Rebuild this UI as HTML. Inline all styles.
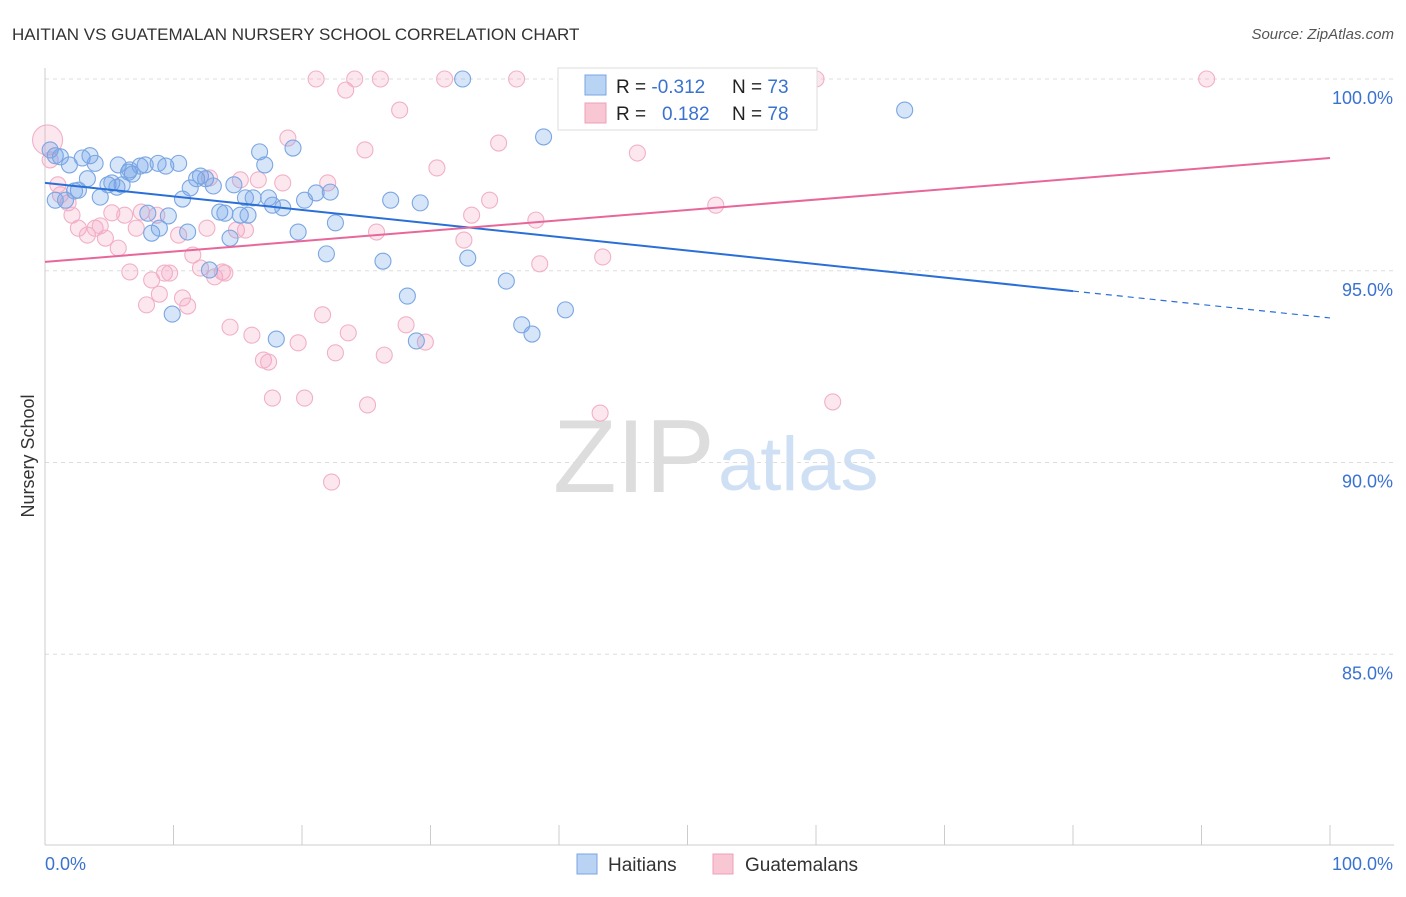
<!DOCTYPE html>
<html><head><meta charset="utf-8"><style>
body{margin:0;background:#fff;font-family:"Liberation Sans",sans-serif}
svg text{font-family:"Liberation Sans",sans-serif}
</style></head><body>
<svg id="chart" width="1406" height="892" viewBox="0 0 1406 892">
<text x="12" y="40" font-size="17" fill="#333">HAITIAN VS GUATEMALAN NURSERY SCHOOL CORRELATION CHART</text>
<text x="1394" y="39" font-size="15" fill="#555" font-style="italic" text-anchor="end">Source: ZipAtlas.com</text>
<text x="34" y="456" font-size="18" fill="#333" transform="rotate(-90 34 456)" text-anchor="middle">Nursery School</text>
<g><text x="553" y="492" font-size="104" fill="#ddd" font-family="Liberation Serif,serif">ZIP</text><text x="718" y="490" font-size="76" fill="#cfe0f5">atlas</text></g>
<g id="grid"></g><g id="axes"></g><g id="pts"></g><g id="lines"></g>
<g>
<rect x="558" y="68" width="259" height="62" fill="#fff" stroke="#ddd"/>
<rect x="585" y="75" width="21" height="20" fill="#b9d3f5" stroke="#7aa6e0"/>
<rect x="585" y="103" width="21" height="20" fill="#f9c6d4" stroke="#eca0b8"/>
<text x="616" y="93" font-size="19" fill="#222">R = <tspan fill="#3a72d0">-0.312</tspan></text>
<text x="732" y="93" font-size="19" fill="#222">N = <tspan fill="#3a72d0">73</tspan></text>
<text x="616" y="120" font-size="19" fill="#222">R = <tspan fill="#3a72d0" x="662">0.182</tspan></text>
<text x="732" y="120" font-size="19" fill="#222">N = <tspan fill="#3a72d0">78</tspan></text>
</g>
<g>
<rect x="577" y="854" width="20" height="20" fill="#b9d3f5" stroke="#7aa6e0"/>
<text x="608" y="871" font-size="19" fill="#333">Haitians</text>
<rect x="713" y="854" width="20" height="20" fill="#f9c6d4" stroke="#eca0b8"/>
<text x="745" y="871" font-size="19" fill="#333">Guatemalans</text>
</g>
</svg>
<script>
const yTicks=[100,95,90,85];
const xTickVals=[0,10,20,30,40,50,60,70,80,90,100];
const blueX=[0.4,0.8,1.2,1.9,2.6,1.6,2.9,3.5,3.9,3.3,4.3,4.9,5.2,5.7,6.0,6.5,6.8,7.4,7.8,8.0,8.3,8.8,8.9,9.4,9.6,9.9,10.4,10.7,11.1,11.3,11.8,12.1,12.5,12.8,13.1,13.6,14.0,14.4,14.7,15.2,15.6,15.8,16.2,16.7,17.1,17.4,17.7,18.0,18.5,19.3,19.7,20.2,21.1,21.9,22.2,22.6,26.3,26.9,28.2,28.9,29.2,32.5,32.9,35.9,37.1,37.9,38.8,40.5,66.9,0.8,6.6,2.3,5.6];
const blueY=[98.15,98.0,97.97,97.76,97.1,96.84,97.94,98.0,97.8,97.4,96.92,97.24,97.29,97.76,97.24,97.57,97.52,97.73,97.76,96.5,95.98,97.8,96.11,97.73,96.43,93.87,97.8,96.87,96.01,97.16,97.4,97.47,97.4,95.02,97.21,96.53,96.5,95.85,97.24,96.45,96.9,96.45,96.9,98.1,97.76,96.9,96.71,93.22,96.64,98.2,96.01,96.84,97.03,95.44,97.05,96.25,95.25,96.84,94.34,93.17,96.77,100,95.33,94.73,93.59,93.35,98.49,93.98,99.19,96.84,97.63,97.08,97.18];
const pinkX=[0.2,0.4,1.0,1.8,2.1,2.6,3.3,3.9,4.3,4.7,5.2,5.7,6.2,6.6,7.1,7.5,7.9,8.3,8.7,8.9,9.3,9.7,10.4,10.7,11.1,11.5,12.1,12.6,12.8,13.2,13.8,14.0,14.4,14.9,15.2,15.6,16.1,16.6,17.0,17.4,17.7,18.5,18.9,19.7,20.2,21.1,21.6,22.0,22.6,23.4,23.6,24.1,24.9,25.1,25.8,26.1,26.4,27.6,28.1,29.6,30.5,31.1,32.6,33.2,34.6,35.3,36.7,38.2,38.5,43.2,43.4,46.1,52.2,58.8,60.0,61.3,90.4,22.3,1.2];
const pinkY=[98.41,97.89,97.24,96.77,96.45,96.11,95.93,96.11,96.17,95.85,96.51,95.59,96.45,94.97,96.11,96.53,94.11,94.76,96.45,94.39,94.94,94.94,95.93,94.29,94.08,95.41,95.07,96.11,97.42,94.84,94.97,94.94,93.53,96.06,97.37,96.06,93.32,97.37,92.67,92.62,91.68,97.29,98.46,93.12,91.68,100,93.85,97.29,92.86,99.71,93.38,100,98.15,91.5,96.01,100,92.8,99.19,93.59,93.14,97.68,100,95.8,96.45,96.84,98.33,100,96.32,95.18,91.29,95.36,98.07,96.71,100,100,91.58,100,89.49,96.98];
const blueLine=[97.29,94.47,93.77];
const pinkLine=[95.23,97.94];
const NS='http://www.w3.org/2000/svg';
const X=v=>45+v*12.85, Y=v=>79+(100-v)*38.35;
function mk(t,a,p){const e=document.createElementNS(NS,t);for(const k in a)e.setAttribute(k,a[k]);document.getElementById(p).appendChild(e);return e;}
yTicks.forEach(v=>{
 const l=mk('line',{x1:45,x2:1394,y1:Y(v),y2:Y(v),stroke:'#ddd','stroke-dasharray':'4,4'},'grid');
 
 
 const t=mk('text',{x:1393,y:Y(v)+25,'font-size':18,fill:'#3a72d0','text-anchor':'end'},'grid');t.textContent=v.toFixed(1)+'%';
 
 
});
mk('line',{x1:45,x2:45,y1:68,y2:845,stroke:'#ccc'},'axes');
mk('line',{x1:45,x2:1394,y1:845,y2:845,stroke:'#ccc'},'axes');
xTickVals.forEach(v=>{const l=mk('line',{x1:X(v),x2:X(v),y1:825,y2:845,stroke:'#ccc'},'axes');
 
 });
let t0=mk('text',{x:45,y:870,'font-size':18,fill:'#3a72d0'},'axes');t0.textContent='0.0%';


let t1=mk('text',{x:1393,y:870,'font-size':18,fill:'#3a72d0','text-anchor':'end'},'axes');t1.textContent='100.0%';


pinkX.forEach((x,i)=>{const c=mk('circle',{cx:X(x),cy:Y(pinkY[i]),r:i==0?15:8,fill:'rgba(245,160,190,0.25)',stroke:'#f2b0c6','stroke-width':1.1},'pts');
 
 });
blueX.forEach((x,i)=>{const c=mk('circle',{cx:X(x),cy:Y(blueY[i]),r:8,fill:'rgba(110,160,230,0.28)',stroke:'#7aa6e3','stroke-width':1.1},'pts');
 
 });
let b=mk('line',{x1:X(0),y1:Y(blueLine[0]),x2:X(80),y2:Y(blueLine[1]),stroke:'#2a6fd8','stroke-width':2},'lines');


let bd=mk('line',{x1:X(80),y1:Y(blueLine[1]),x2:X(100),y2:Y(blueLine[2]),stroke:'#2a6fd8','stroke-width':1.2,'stroke-dasharray':'6,5'},'lines');


let p=mk('line',{x1:X(0),y1:Y(pinkLine[0]),x2:X(100),y2:Y(pinkLine[1]),stroke:'#e8679a','stroke-width':2},'lines');


</script>
</body></html>
